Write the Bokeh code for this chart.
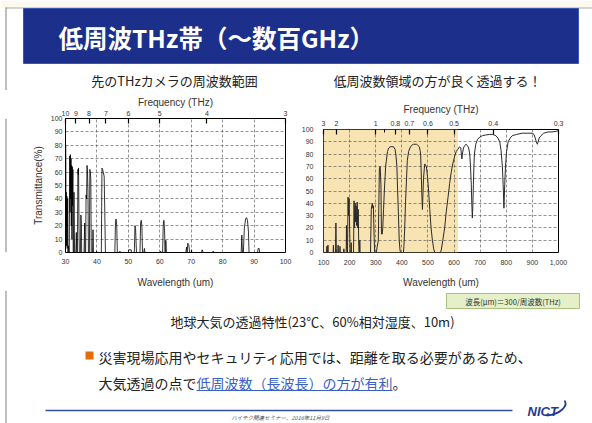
from bokeh.plotting import figure
from bokeh.layouts import column, row
from bokeh.models import (Range1d, FixedTicker, LinearAxis, CustomJSTickFormatter,
                          NumeralTickFormatter, Spacer)
from bokeh.embed import file_html
from bokeh.resources import INLINE
from bokeh.core.properties import value

# ---------------- data / texts ----------------
slide_title = "低周波THz帯（～数百GHz）"
left_subtitle = "先のTHzカメラの周波数範囲"
right_subtitle = "低周波数領域の方が良く透過する！"
freq_label = "Frequency (THz)"
wl_label = "Wavelength (um)"
y_label = "Transmittance(%)"

left_wl_ticks = [30, 40, 50, 60, 70, 80, 90, 100]
right_wl_ticks = [100, 200, 300, 400, 500, 600, 700, 800, 900, 1000]
y_ticks = [0, 10, 20, 30, 40, 50, 60, 70, 80, 90, 100]
left_freq_ticks = [10, 9, 8, 7, 6, 5, 4, 3]
right_freq_ticks = [3, 2, 1, 0.8, 0.7, 0.6, 0.5, 0.4, 0.3]
right_freq_minor = [0.9]
band_start = 100
band_end = 615

left_wl = [30.0, 30.05, 30.15, 30.25, 30.35, 30.45, 30.55, 30.7, 30.8, 30.95, 31.05,
           31.2, 31.35, 31.45, 31.55, 31.65, 31.75, 31.85, 31.95, 32.05, 32.15, 32.25, 32.35, 32.45,
           32.6, 32.7, 32.8, 32.9,
           33.3, 33.45, 33.55,
           33.8, 33.95, 34.05, 34.15, 34.3, 34.4,
           34.75, 34.9, 35.05, 35.15,
           35.9, 36.1, 36.2,
           36.4, 36.55, 36.7, 36.85, 37.0, 37.15, 37.3,
           37.6, 37.75, 37.9, 38.05, 38.2,
           38.6, 38.75, 38.9,
           39.8, 39.9, 40.0,
           41.4, 41.6, 41.8, 42.0, 42.3, 42.5, 42.7,
           45.7, 45.9, 46.1, 46.3, 46.5,
           47.2, 47.3, 47.4,
           50.0, 50.1, 50.9, 51.0,
           51.9, 52.1, 52.3, 52.5, 52.6,
           53.7, 53.9, 54.1, 54.3, 54.5,
           54.9, 55.1, 55.3,
           60.2, 60.3, 60.4,
           60.9, 61.1, 61.3, 61.5, 61.7, 61.8, 62.0, 62.1,
           68.3, 68.5, 68.7, 68.9, 69.2, 69.5,
           70.0, 70.1, 70.2,
           73.3, 73.5, 73.8,
           76.9, 77.0, 77.1,
           85.9, 86.1, 86.3,
           86.6, 86.9, 87.3, 87.6, 87.9, 88.2, 88.4,
           91.1, 91.3, 91.6, 91.8,
           100.0]
left_tr = [0, 80, 20, 45, 5, 42, 3, 40, 0, 5, 0,
           0, 72, 30, 73, 40, 70, 20, 65, 10, 64, 35, 62, 0,
           0, 45, 15, 0,
           0, 15, 0,
           0, 62, 58, 63, 20, 0,
           0, 28, 20, 0,
           0, 22, 0,
           0, 43, 40, 65, 60, 45, 0,
           0, 62, 60, 55, 0,
           0, 17, 0,
           0, 1, 0,
           0, 63, 62, 60, 57, 30, 0,
           0, 23, 25, 20, 0,
           0, 1, 0,
           0, 2, 2, 0,
           0, 20, 18, 5, 0,
           0, 22, 24, 20, 0,
           0, 3, 0,
           0, 1, 0,
           0, 20, 24, 18, 0, 9, 9, 0,
           0, 4, 0, 7, 6, 0,
           0, 2, 0,
           0, 2, 0,
           0, 1, 0,
           0, 13, 0,
           0, 18, 25, 26, 24, 16, 0,
           0, 3, 3, 0,
           0]

right_wl = [100, 112, 113, 114, 116, 117, 118, 137, 138, 139, 146, 147.5, 149, 150, 155, 156, 157,
            162, 163, 164, 177, 178, 179,
            187, 188, 189, 192, 194, 196, 198, 200, 202, 205, 206, 207,
            215, 217, 219, 221, 223, 225, 227, 229, 231, 233, 235, 236, 238, 239, 240,
            280, 283, 285, 287, 289, 291, 294, 296,
            302, 306, 310, 312, 314, 317, 320, 322, 325, 327, 330, 333, 338, 345, 350, 355,
            362, 368, 374, 378, 381, 384, 387, 390, 393, 395,
            406, 408, 411, 414, 418, 421, 426, 431, 437, 444, 450, 456, 462, 467, 470, 472,
            475, 477, 479, 481, 483, 486, 488, 491, 494, 498, 501, 504, 507, 512, 517, 522, 526,
            548, 551, 557, 564, 570, 577, 583, 589, 595, 602, 608, 615, 621, 626, 628, 630,
            632, 636, 641, 646, 651, 656, 660, 663, 666, 668, 670, 672, 674, 676, 678, 683,
            690, 699, 709, 720, 735, 748, 760, 768, 775, 780, 785, 788, 791, 794, 797, 801,
            807, 815, 823, 840, 861, 880, 899, 906, 911, 915, 919, 922, 926, 933, 943, 960,
            975, 990, 1000]
right_tr = [0, 0, 5, 0, 0, 6, 0, 0, 6, 0, 0, 24, 3, 0, 0, 6, 0,
            0, 5, 0, 0, 3, 0,
            0, 22, 5, 0, 45, 30, 44, 20, 0, 0, 8, 0,
            0, 42, 20, 40, 25, 38, 22, 41, 20, 35, 5, 0, 0, 10, 0,
            0, 35, 38, 40, 36, 38, 12, 0,
            0, 5, 10, 40, 68, 70, 55, 15, 15, 20, 35, 50, 70, 82, 85, 86,
            86, 86, 84, 78, 70, 50, 30, 10, 2, 0,
            0, 5, 20, 40, 60, 75, 82, 85, 87, 88, 88, 88, 87, 86, 83, 80,
            60, 45, 35, 48, 60, 68, 72, 71, 70, 62, 55, 45, 35, 20, 10, 3, 0,
            0, 2, 10, 20, 33, 45, 56, 65, 72, 78, 82, 84, 86, 85, 80, 76,
            80, 85, 87, 88, 87, 85, 80, 70, 55, 40, 28, 38, 55, 70, 80, 88,
            92, 94, 95, 95.5, 96, 96, 95, 93, 90, 83, 70, 55, 36, 55, 70, 82,
            90, 93, 95, 96, 97, 97, 97, 96, 93, 90, 88, 90, 93, 95, 97, 98,
            98, 98.5, 99]

formula_note = "波長(μm)＝300/周波数(THz)"
caption = "地球大気の透過特性(23℃、60%相対湿度、10m)"
bullet_line1 = "災害現場応用やセキュリティ応用では、距離を取る必要があるため、"
bullet_line2_plain = "大気透過の点で"
bullet_line2_link = "低周波数（長波長）の方が有利"
bullet_line2_end = "。"
footer_text = "ハイテク関連セミナー、2016年11月9日"
logo_text = "NICT"

LATIN = "Liberation Sans"
CJK = "Noto Sans CJK JP"
W = 592
TOP_H = 90
ROW_H = 200
BOT_H = 133
EDGE = "#a8a8a8"


def blank_fig(w, h):
    p = figure(width=w, height=h, x_range=Range1d(0, w), y_range=Range1d(h, 0),
               x_axis_type=None, y_axis_type=None, output_backend="svg",
               toolbar_location=None, min_border=0)
    p.outline_line_color = None
    p.background_fill_color = "white"
    p.border_fill_color = "white"
    return p


def make_chart(wl, tr, x_lo, x_hi, xticks, fticks, fminor, width, height, mb,
               ylabel, xformat, line_color, line_width, top_std, top_lab_std,
               y_std, x_std, x_lab_std, band=None):
    p = figure(width=width, height=height, x_range=Range1d(x_lo, x_hi),
               y_range=Range1d(0, 100), output_backend="svg", toolbar_location=None,
               min_border_left=mb[0], min_border_right=mb[1],
               min_border_top=mb[2], min_border_bottom=mb[3])
    p.outline_line_color = "black"
    p.outline_line_width = 1
    if band is not None:
        p.quad(left=[band[0]], right=[band[1]], bottom=[0], top=[100],
               fill_color="#f8e4b3", line_color=None, level="image")

    xa = p.xaxis[0]
    xa.ticker = FixedTicker(ticks=xticks)
    if xformat:
        xa.formatter = NumeralTickFormatter(format=xformat)
    xa.axis_label = wl_label
    ya = p.yaxis[0]
    ya.ticker = FixedTicker(ticks=y_ticks)
    if ylabel:
        ya.axis_label = ylabel
    for ax, std in ((xa, x_std), (ya, y_std)):
        ax.axis_line_color = None
        ax.major_tick_line_color = None
        ax.minor_tick_line_color = None
        ax.major_tick_out = 0
        ax.major_tick_in = 0
        ax.major_label_standoff = std
        ax.major_label_text_font = LATIN
        ax.major_label_text_font_size = "7px"
        ax.major_label_text_color = "#333333"
        ax.axis_label_text_font = LATIN
        ax.axis_label_text_font_size = "10px"
        ax.axis_label_text_font_style = "normal"
        ax.axis_label_text_color = "#333333"
    xa.axis_label_standoff = x_lab_std
    ya.axis_label_standoff = 4

    for g, ax in ((p.xgrid[0], xa), (p.ygrid[0], ya)):
        g.ticker = ax.ticker
        g.grid_line_color = "#555555"
        g.grid_line_alpha = 0.8
        g.grid_line_width = 0.8
        g.grid_line_dash = "3 2"

    top = LinearAxis(
        ticker=FixedTicker(ticks=[300.0 / f for f in fticks],
                           minor_ticks=[300.0 / f for f in fminor]),
        formatter=CustomJSTickFormatter(
            code="const f = 300/tick; return String(Math.round(f*10)/10);"),
        axis_label=freq_label)
    top.axis_line_color = None
    top.major_tick_in = 5
    top.major_tick_out = 0
    top.minor_tick_in = 3
    top.minor_tick_out = 0
    top.major_tick_line_color = "black"
    top.major_tick_line_width = 1.2
    top.minor_tick_line_color = "black"
    top.major_label_standoff = top_std
    top.major_label_text_font = LATIN
    top.major_label_text_font_size = "7px"
    top.major_label_text_color = "#333333"
    top.axis_label_standoff = top_lab_std
    top.axis_label_text_font = LATIN
    top.axis_label_text_font_size = "10px"
    top.axis_label_text_font_style = "normal"
    top.axis_label_text_color = "#333333"
    p.add_layout(top, "above")

    p.line(wl, tr, line_color=line_color, line_width=line_width)
    return p


# ---------------- top band ----------------
top_fig = blank_fig(W, TOP_H)
top_fig.quad(left=[0], right=[W], top=[0], bottom=[7], fill_color="#fbf8ee",
             line_color=None)
top_fig.segment(x0=[5], y0=[7.5], x1=[W], y1=[7.5], line_color=EDGE, line_width=1)
top_fig.segment(x0=[5.5], y0=[7], x1=[5.5], y1=[TOP_H], line_color=EDGE, line_width=1.5)
top_fig.quad(left=[23], right=[578], top=[8], bottom=[63],
             fill_color="#1b2f8b", line_color="#3a56b0", line_width=1)
top_fig.text(x=[58], y=[37], text=[slide_title], text_color="white",
             text_font=value(CJK), text_font_size="24.5px", text_font_style="bold",
             text_align="left", text_baseline="middle")
top_fig.text(x=[174, 437], y=[79.5, 79.5], text=[left_subtitle, right_subtitle],
             text_color="#222222", text_font=value(CJK), text_font_size="13px",
             text_align="center", text_baseline="middle")

# ---------------- charts (row starts at page y = 90) ----------------
edge_fig = blank_fig(8, ROW_H)
edge_fig.segment(x0=[5.5], y0=[0], x1=[5.5], y1=[ROW_H], line_color=EDGE, line_width=1.5)

chart1 = make_chart(left_wl, left_tr, 30, 100, left_wl_ticks, left_freq_ticks, [],
                    290, ROW_H, (57, 13, 28, 38), y_label, None, "black", 0.8,
                    3, 0, 3, 6, 10)
chart2 = make_chart(right_wl, right_tr, 100, 1000, right_wl_ticks, right_freq_ticks,
                    right_freq_minor, 294, ROW_H - 10, (23, 34, 28, 38), None, "0,0",
                    "#2a2a2a", 1.0, 4, 3, 10, 7, 9, band=(band_start, band_end))
col2 = column(Spacer(width=294, height=10), chart2)

# ---------------- bottom band (local y = page y - 290) ----------------
bot = blank_fig(W, BOT_H)
bot.segment(x0=[5.5], y0=[0], x1=[5.5], y1=[BOT_H], line_color=EDGE, line_width=1.5)
bot.quad(left=[446], right=[579], top=[3], bottom=[18],
         fill_color="#e5f0c9", line_color="#a8c080", line_width=1)
bot.text(x=[512.5], y=[10.5], text=[formula_note], text_color="#333333",
         text_font=value(CJK), text_font_size="7.5px", text_align="center",
         text_baseline="middle")
bot.text(x=[312], y=[31], text=[caption], text_color="#222222",
         text_font=value(CJK), text_font_size="13px", text_align="center",
         text_baseline="middle")
FS = 14
x0 = 98
bot.quad(left=[85], right=[93], top=[61], bottom=[69], fill_color="#e46c0a",
         line_color=None)
bot.text(x=[x0], y=[66], text=[bullet_line1], text_color="#222222",
         text_font=value(CJK), text_font_size=f"{FS}px", text_align="left",
         text_baseline="middle")
bot.text(x=[x0, x0 + 7 * FS, x0 + 21 * FS], y=[92, 92, 92],
         text=[bullet_line2_plain, bullet_line2_link, bullet_line2_end],
         text_color=["#222222", "#3a5fc8", "#222222"],
         text_font=value(CJK), text_font_size=f"{FS}px", text_align="left",
         text_baseline="middle")
bot.segment(x0=[x0 + 7 * FS], y0=[100], x1=[x0 + 21 * FS], y1=[100],
            line_color="#3a5fc8", line_width=1)
bot.segment(x0=[45], y0=[120], x1=[512], y1=[120], line_color="#3550a3",
            line_width=1.5)
bot.text(x=[280], y=[127], text=[footer_text], text_color="#555555",
         text_font=value(CJK), text_font_size="5.5px", text_font_style="italic",
         text_align="center", text_baseline="middle")
bot.text(x=[527], y=[121], text=[logo_text], text_color="#1f3a93",
         text_font=value(LATIN), text_font_size="13px", text_font_style="bold italic",
         text_align="left", text_baseline="middle")
bot.bezier(x0=[546], y0=[125], x1=[564], y1=[110], cx0=[560], cy0=[124],
           cx1=[568], cy1=[115], line_color="#1f3a93", line_width=1.8)

layout = column(top_fig, row(edge_fig, chart1, col2), bot)
open("out.html", "w").write(file_html(layout, INLINE))
